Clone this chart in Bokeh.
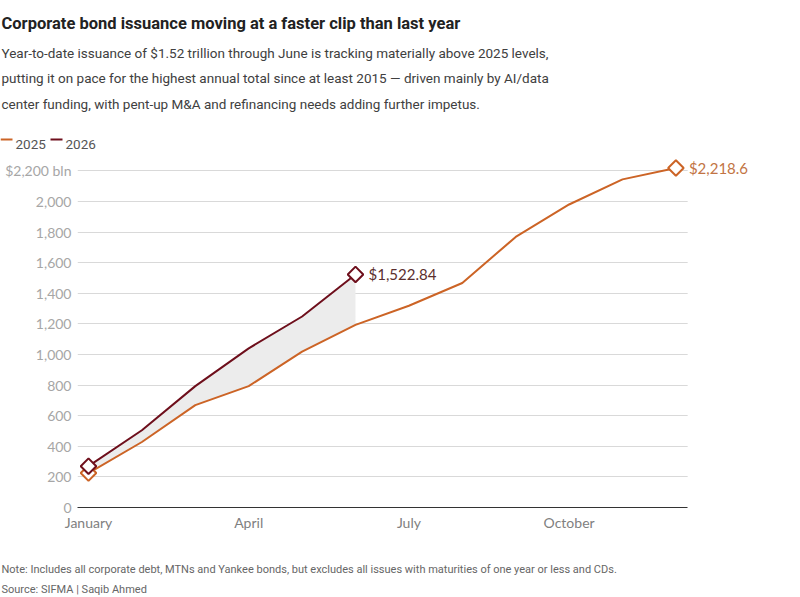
from bokeh.plotting import figure
from bokeh.models import Range1d, FixedTicker, NumeralTickFormatter, Label, BoxAnnotation
from bokeh.layouts import column
from bokeh.embed import file_html
from bokeh.resources import INLINE
import math

# ---- data ----
months = ["January", "February", "March", "April", "May", "June",
          "July", "August", "September", "October", "November", "December"]
tick_months = ["January", "April", "July", "October"]
y2025 = [225, 428, 669, 793, 1018, 1193, 1318, 1467, 1768, 1980, 2144, 2218.6]
y2026 = [270, 505, 793, 1040, 1248, 1522.84]
y_ticks = [0, 200, 400, 600, 800, 1000, 1200, 1400, 1600, 1800, 2000, 2200]
top_tick_label = "$2,200 bln"
label_2025 = "$2,218.6"
label_2026 = "$1,522.84"
series_names = ["2025", "2026"]

title = "Corporate bond issuance moving at a faster clip than last year"
subtitle = [
    "Year-to-date issuance of $1.52 trillion through June is tracking materially above 2025 levels,",
    "putting it on pace for the highest annual total since at least 2015 \u2014 driven mainly by AI/data",
    "center funding, with pent-up M&A and refinancing needs adding further impetus.",
]
note = "Note: Includes all corporate debt, MTNs and Yankee bonds, but excludes all issues with maturities of one year or less and CDs."
source = "Source: SIFMA | Saqib Ahmed"

C2025 = "#cc6426"
C2026 = "#6e0f1c"
TXTF = "Roboto"
AXISF = "Lato"

x25 = list(range(len(y2025)))
x26 = list(range(len(y2026)))


def blank(h):
    f = figure(width=800, height=h, x_range=Range1d(0, 800), y_range=Range1d(h, 0),
               min_border=0, x_axis_location=None, y_axis_location=None,
               toolbar_location=None, output_backend="svg", frame_align=False)
    f.grid.visible = False
    f.outline_line_color = None
    f.background_fill_color = "white"
    f.border_fill_color = "white"
    return f


def tlabel(f, text, x, y, size, color, font=TXTF, style="normal"):
    f.add_layout(Label(x=x, y=y, text=text, text_baseline="alphabetic", text_font=font,
                       text_font_size=size, text_color=color, text_font_style=style))


# ---- header ----
HDR_H = 154
hdr = blank(HDR_H)
tlabel(hdr, title, 1, 23, "16.5px", "#222222", style="bold")
for i, line in enumerate(subtitle):
    tlabel(hdr, line, 1, 52 + i * 25.5, "13.5px", "#404040")
hdr.segment(x0=[0, 50], y0=[139, 139], x1=[12, 62], y1=[139, 139],
            line_color=[C2025, C2026], line_width=2)
tlabel(hdr, series_names[0], 15, 144, "13.5px", "#555555")
tlabel(hdr, series_names[1], 65, 144, "13.5px", "#555555")

# ---- main chart ----
X0 = -0.206
XG = 11.22
MAIN_BOTTOM = 28
p = figure(frame_width=723, frame_height=352, min_border_left=77, min_border_right=0,
           min_border_top=155 - HDR_H, min_border_bottom=MAIN_BOTTOM, output_backend="svg",
           frame_align=False, toolbar_location=None,
           x_range=Range1d(X0, X0 + 723 / 53.4), y_range=Range1d(0, 2300))
p.outline_line_color = None
p.background_fill_color = "white"
p.border_fill_color = "white"

p.xaxis.ticker = FixedTicker(ticks=[months.index(m) for m in tick_months])
p.xaxis.major_label_overrides = {months.index(m): m for m in tick_months}
p.xaxis.bounds = (X0, XG)
p.xaxis.axis_line_color = "#333333"
p.xaxis.axis_line_width = 1.2
p.xaxis.major_tick_line_color = None
p.xaxis.minor_tick_line_color = None
p.xaxis.major_tick_out = 0
p.xaxis.major_tick_in = 0
p.xaxis.major_label_text_font = AXISF
p.xaxis.major_label_text_font_size = "14px"
p.xaxis.major_label_text_color = "#808080"
p.xaxis.major_label_standoff = 6

p.yaxis.ticker = FixedTicker(ticks=y_ticks)
p.yaxis.formatter = NumeralTickFormatter(format="0,0")
p.yaxis.major_label_overrides = {y_ticks[-1]: top_tick_label}
p.yaxis.axis_line_color = None
p.yaxis.major_tick_line_color = None
p.yaxis.minor_tick_line_color = None
p.yaxis.major_tick_out = 0
p.yaxis.major_tick_in = 0
p.yaxis.major_label_text_font = AXISF
p.yaxis.major_label_text_font_size = "14px"
p.yaxis.major_label_text_color = "#a6a6a6"
p.yaxis.major_label_standoff = 6

p.xgrid.grid_line_color = None
p.ygrid.grid_line_color = "#d9d9d9"
p.ygrid.grid_line_width = 1
# hide grid beyond the data area on the right
p.add_layout(BoxAnnotation(left=XG, fill_color="white", fill_alpha=1, line_color=None,
                           level="underlay"))

p.varea(x=x26, y1=y2025[:len(y2026)], y2=y2026, fill_color="#ececec")
p.line(x25, y2025, line_color=C2025, line_width=2)
p.line(x26, y2026, line_color=C2026, line_width=2)

p.scatter([x25[0], x25[-1]], [y2025[0], y2025[-1]], marker="square", angle=math.pi / 4,
          size=11, fill_color="white", line_color=C2025, line_width=2)
p.scatter([x26[0], x26[-1]], [y2026[0], y2026[-1]], marker="square", angle=math.pi / 4,
          size=11, fill_color="white", line_color=C2026, line_width=2)

p.add_layout(Label(x=x26[-1], y=y2026[-1], text=label_2026, x_offset=13, text_baseline="middle",
                   text_font=AXISF, text_font_size="15px", text_color="#5a2e2e"))
p.add_layout(Label(x=x25[-1], y=y2025[-1], text=label_2025, x_offset=13, text_baseline="middle",
                   text_font=AXISF, text_font_size="15px", text_color="#c27444"))

# ---- footer ----
FTR_TOP = 155 + 352 + MAIN_BOTTOM
ftr = blank(597 - FTR_TOP)
tlabel(ftr, note, 1, 569 - FTR_TOP, "11px", "#666666")
tlabel(ftr, source, 1, 589 - FTR_TOP, "11px", "#666666")

layout = column(hdr, p, ftr, spacing=0)
open("out.html", "w").write(file_html(layout, INLINE))
